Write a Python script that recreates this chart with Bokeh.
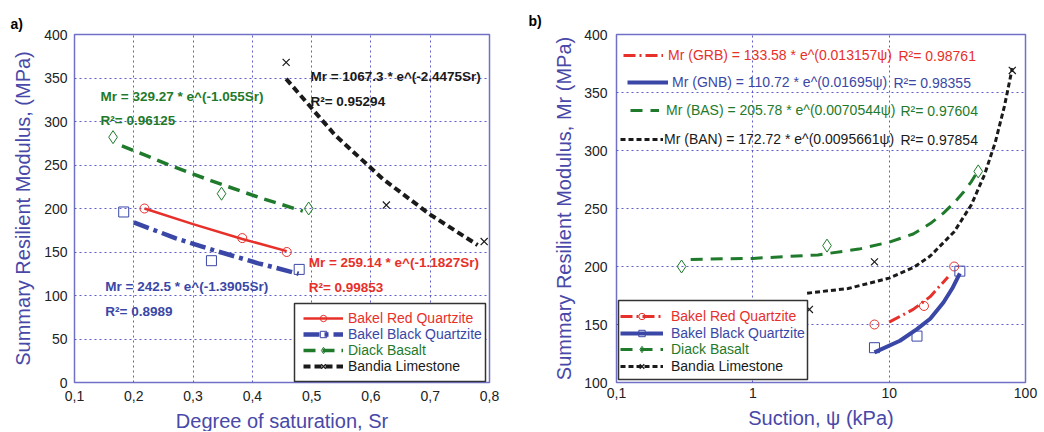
from bokeh.plotting import figure
from bokeh.models import Label, Legend, LegendItem, BoxAnnotation, FixedTicker
from bokeh.layouts import row
from bokeh.embed import file_html
from bokeh.resources import INLINE

# ---------------- data: panel a) ----------------
sr_ticks = [0.1, 0.2, 0.3, 0.4, 0.5, 0.6, 0.7, 0.8]
sr_tick_labels = ["0,1", "0,2", "0,3", "0,4", "0,5", "0,6", "0,7", "0,8"]
mr_ticks_a = [0, 50, 100, 150, 200, 250, 300, 350, 400]

sr_red = [0.218, 0.383, 0.458]
mr_red = [200, 166, 150]
sr_blue = [0.183, 0.331, 0.479]
mr_blue = [196, 140, 130]
sr_green = [0.165, 0.348, 0.495]
mr_green = [282, 217, 200]
sr_black = [0.457, 0.626, 0.791]
mr_black = [368, 204, 162]

fit_sr_red = [0.218, 0.3, 0.383, 0.458]
fit_mr_red = [200, 182, 165, 151]
fit_sr_blue = [0.2, 0.27, 0.34, 0.41, 0.478]
fit_mr_blue = [184, 166, 151, 137, 125]
fit_sr_green = [0.18, 0.26, 0.33, 0.41, 0.485]
fit_mr_green = [272, 250, 232, 213, 197]
fit_sr_black = [0.457, 0.54, 0.62, 0.7, 0.78]
fit_mr_black = [349, 284, 234, 193, 158]

# ---------------- data: panel b) ----------------
psi_ticks = [0.1, 1, 10, 100]
psi_tick_labels = ["0,1", "1", "10", "100"]
mr_ticks_b = [100, 150, 200, 250, 300, 350, 400]

psi_red = [7.8, 18, 30]
mrb_red = [150, 166, 200]
psi_blue = [7.8, 16, 33]
mrb_blue = [130, 140, 196]
psi_green = [0.3, 3.5, 45]
mrb_green = [200, 218, 282]
psi_black = [2.6, 7.8, 80]
mrb_black = [163, 204, 369]

fit_psi_red = [10, 15, 20, 27]
fit_mrb_red = [152, 163, 174, 191]
fit_psi_blue = [7.8, 12, 16, 20, 25, 29, 33]
fit_mrb_blue = [126, 136, 146, 155, 169, 181, 194]
fit_psi_green = [0.35, 0.6, 1, 3, 6, 10, 15, 20, 25, 30, 35, 40, 45]
fit_mrb_green = [206, 206.6, 207, 210, 215, 221, 228, 237, 246, 255, 264, 273, 283]
fit_psi_black = [2.5, 5, 10, 15, 20, 30, 40, 50, 60, 70, 80]
fit_mrb_black = [177, 181, 190, 199, 209, 230, 253, 279, 307, 338, 371]

series_names = ["Bakel Red Quartzite", "Bakel Black Quartzite", "Diack Basalt", "Bandia Limestone"]
eq_a = ["Mr = 259.14 * e^(-1.1827Sr)", "Mr = 242.5 * e^(-1.3905Sr)",
        "Mr = 329.27 * e^(-1.055Sr)", "Mr = 1067.3 * e^(-2.4475Sr)"]
r2_a = ["R²= 0.99853", "R²= 0.8989", "R²= 0.96125", "R²= 0.95294"]
eq_b = ["Mr (GRB) = 133.58 * e^(0.013157ψ)", "Mr (GNB) = 110.72 * e^(0.01695ψ)",
        "Mr (BAS) = 205.78 * e^(0.0070544ψ)", "Mr (BAN) = 172.72 * e^(0.0095661ψ)"]
r2_b = ["R²= 0.98761", "R²= 0.98355", "R²= 0.97604", "R²= 0.97854"]

# ---------------- styling ----------------
FONT = "Liberation Sans"
RED = "#e8302a"
BLUE = "#3a47a6"
GREEN = "#1f7a2b"
BLACK = "#1a1a1a"
AXC = "#4848a8"
FRAME = "#7070c6"
GRID = "#4f4fc4"


def style(p, xticks, xlabels, yticks, xlabel, ylabel, xstand, xlabstand, ystand, ylabstand):
    p.xaxis.ticker = FixedTicker(ticks=xticks)
    p.xaxis.major_label_overrides = dict(zip(xticks, xlabels))
    p.yaxis.ticker = FixedTicker(ticks=yticks)
    p.xaxis.axis_label = xlabel
    p.yaxis.axis_label = ylabel
    for ax in p.axis:
        ax.axis_line_color = None
        ax.major_tick_in = 0
        ax.major_tick_out = 0
        ax.minor_tick_in = 0
        ax.minor_tick_out = 0
        ax.major_label_text_font = FONT
        ax.major_label_text_font_size = "14px"
        ax.major_label_text_color = "#222222"
        ax.axis_label_text_font = FONT
        ax.axis_label_text_font_size = "20px"
        ax.axis_label_text_font_style = "normal"
        ax.axis_label_text_color = AXC
    p.xaxis.major_label_standoff = xstand
    p.xaxis.axis_label_standoff = xlabstand
    p.yaxis.major_label_standoff = ystand
    p.yaxis.axis_label_standoff = ylabstand
    for g in p.grid:
        g.grid_line_color = GRID
        g.grid_line_dash = "2 3"
        g.grid_line_width = 1
        g.grid_line_alpha = 0.9
    p.outline_line_color = FRAME
    p.outline_line_width = 1.5
    p.outline_line_alpha = 1


def panel_title(p, text, offset, standoff):
    p.title.text = text
    p.title.align = "left"
    p.title.offset = offset
    p.title.standoff = standoff
    p.title.text_font = FONT
    p.title.text_font_size = "14px"
    p.title.text_font_style = "bold"
    p.title.text_color = "black"


def add_leg(p, renderers, label, color, x, y, gw=40, standoff=5, size="14px", fstyle="normal"):
    leg = Legend(items=[LegendItem(label=label, renderers=renderers)], location=(x, y),
                 padding=0, margin=0, spacing=0,
                 glyph_width=gw, glyph_height=16, label_height=16, label_standoff=standoff,
                 border_line_alpha=0, background_fill_alpha=0,
                 label_text_color=color, label_text_font=FONT,
                 label_text_font_size=size, label_text_font_style=fstyle)
    p.add_layout(leg, "center")


# ================= panel a =================
p1 = figure(frame_width=415, frame_height=348, x_range=(0.1, 0.8), y_range=(0, 400),
            output_backend="svg", toolbar_location=None,
            min_border_left=74, min_border_right=31, min_border_top=29, min_border_bottom=54,
            background_fill_color="white", border_fill_color="white")
style(p1, sr_ticks, sr_tick_labels, mr_ticks_a,
      "Degree of saturation, Sr", "Summary Resilient Modulus, (MPa)", 8, 6, 7, 7)
panel_title(p1, "a)", -64, 6)

la_red = p1.line(fit_sr_red, fit_mr_red, line_color=RED, line_width=2.5)
la_blue = p1.line(fit_sr_blue, fit_mr_blue, line_color=BLUE, line_width=4.5, line_dash="16 5 4 5")
la_green = p1.line(fit_sr_green, fit_mr_green, line_color=GREEN, line_width=3.5, line_dash="12 7")
la_black = p1.line(fit_sr_black, fit_mr_black, line_color=BLACK, line_width=4, line_dash="7 4")

ma_red = p1.scatter(sr_red, mr_red, marker="circle", size=9, fill_color=None, line_color=RED, line_width=1)
ma_blue = p1.scatter(sr_blue, mr_blue, marker="square", size=10, fill_color=None, line_color=BLUE, line_width=1)
ma_green = p1.scatter(sr_green, mr_green, marker="diamond", size=13, fill_color=None, line_color=GREEN, line_width=1)
ma_black = p1.scatter(sr_black, mr_black, marker="x", size=10, line_color=BLACK, line_width=1.2)

# equations (left panel, bold)
eq_pos_a = [(0.495, 138, 109), (0.152, 110, 81.6), (0.144, 328.7, 301), (0.498, 351.7, 323)]
cols = [RED, BLUE, GREEN, BLACK]
for (xx, y1, y2), e, r, c in zip(eq_pos_a, eq_a, r2_a, cols):
    for yy, t in ((y1, e), (y2, r)):
        p1.add_layout(Label(x=xx, y=yy, text=t, text_color=c, text_font=FONT,
                            text_font_size="13.5px", text_font_style="bold",
                            text_baseline="middle", text_align="left"))

# legend a
p1.add_layout(BoxAnnotation(left=220, right=411, bottom=1, top=79,
                            left_units="screen", right_units="screen",
                            bottom_units="screen", top_units="screen",
                            fill_color="white", fill_alpha=1,
                            line_color="#333333", line_width=1.5, line_alpha=1))
rend_a = [[la_red, ma_red], [la_blue, ma_blue], [la_green, ma_green], [la_black, ma_black]]
for i, (rs, nm, c) in enumerate(zip(rend_a, series_names, cols)):
    add_leg(p1, rs, nm, c, 229, 56 - 16 * i, gw=40, standoff=5, size="14px")

# ================= panel b =================
p2 = figure(frame_width=409, frame_height=348, x_axis_type="log", x_range=(0.1, 100), y_range=(100, 400),
            output_backend="svg", toolbar_location=None,
            min_border_left=96, min_border_right=17, min_border_top=34, min_border_bottom=49,
            background_fill_color="white", border_fill_color="white")
style(p2, psi_ticks, psi_tick_labels, mr_ticks_b,
      "Suction, ψ (kPa)", "Summary Resilient Modulus, Mr (MPa)", 5, 6, 9, 6)
panel_title(p2, "b)", -88, 11)

lb_red = p2.line(fit_psi_red, fit_mrb_red, line_color=RED, line_width=3, line_dash="12 4 2 4")
lb_blue = p2.line(fit_psi_blue, fit_mrb_blue, line_color=BLUE, line_width=4)
lb_green = p2.line(fit_psi_green, fit_mrb_green, line_color=GREEN, line_width=3, line_dash="12 8")
lb_black = p2.line(fit_psi_black, fit_mrb_black, line_color=BLACK, line_width=3, line_dash="5 3")

mb_red = p2.scatter(psi_red, mrb_red, marker="circle", size=9, fill_color=None, line_color=RED, line_width=1)
mb_blue = p2.scatter(psi_blue, mrb_blue, marker="square", size=10, fill_color=None, line_color=BLUE, line_width=1)
mb_green = p2.scatter(psi_green, mrb_green, marker="diamond", size=13, fill_color=None, line_color=GREEN, line_width=1)
mb_black = p2.scatter(psi_black, mrb_black, marker="x", size=10, line_color=BLACK, line_width=1.2)

# equation legends (top)
eq_rows = [(7, 319, 40, 5, 282), (11, 292, 41, 4, 277), (14, 264, 29, 7, 284), (4, 235, 43, 1, 284)]
fits_b = [lb_red, lb_blue, lb_green, lb_black]
for (xx, yy, gw, so, rx), e, r, c, lr in zip(eq_rows, eq_b, r2_b, cols, fits_b):
    add_leg(p2, [lr], e, c, xx, yy, gw=gw, standoff=so, size="14px")
    p2.add_layout(Label(x=rx, y=yy + 8, x_units="screen", y_units="screen", text=r,
                        text_color=c, text_font=FONT, text_font_size="14px",
                        text_baseline="middle", text_align="left"))

# legend b
p2.add_layout(BoxAnnotation(left=2, right=191, bottom=3, top=82,
                            left_units="screen", right_units="screen",
                            bottom_units="screen", top_units="screen",
                            fill_color="white", fill_alpha=1,
                            line_color="#333333", line_width=1.5, line_alpha=1))
rend_b = [[lb_red, mb_red], [lb_blue, mb_blue], [lb_green, mb_green], [lb_black, mb_black]]
for i, (rs, nm, c) in enumerate(zip(rend_b, series_names, cols)):
    add_leg(p2, rs, nm, c, 4, 58 - 16.5 * i, gw=43, standoff=8, size="14px")

layout = row(p1, p2)
open("out.html", "w").write(file_html(layout, INLINE))
